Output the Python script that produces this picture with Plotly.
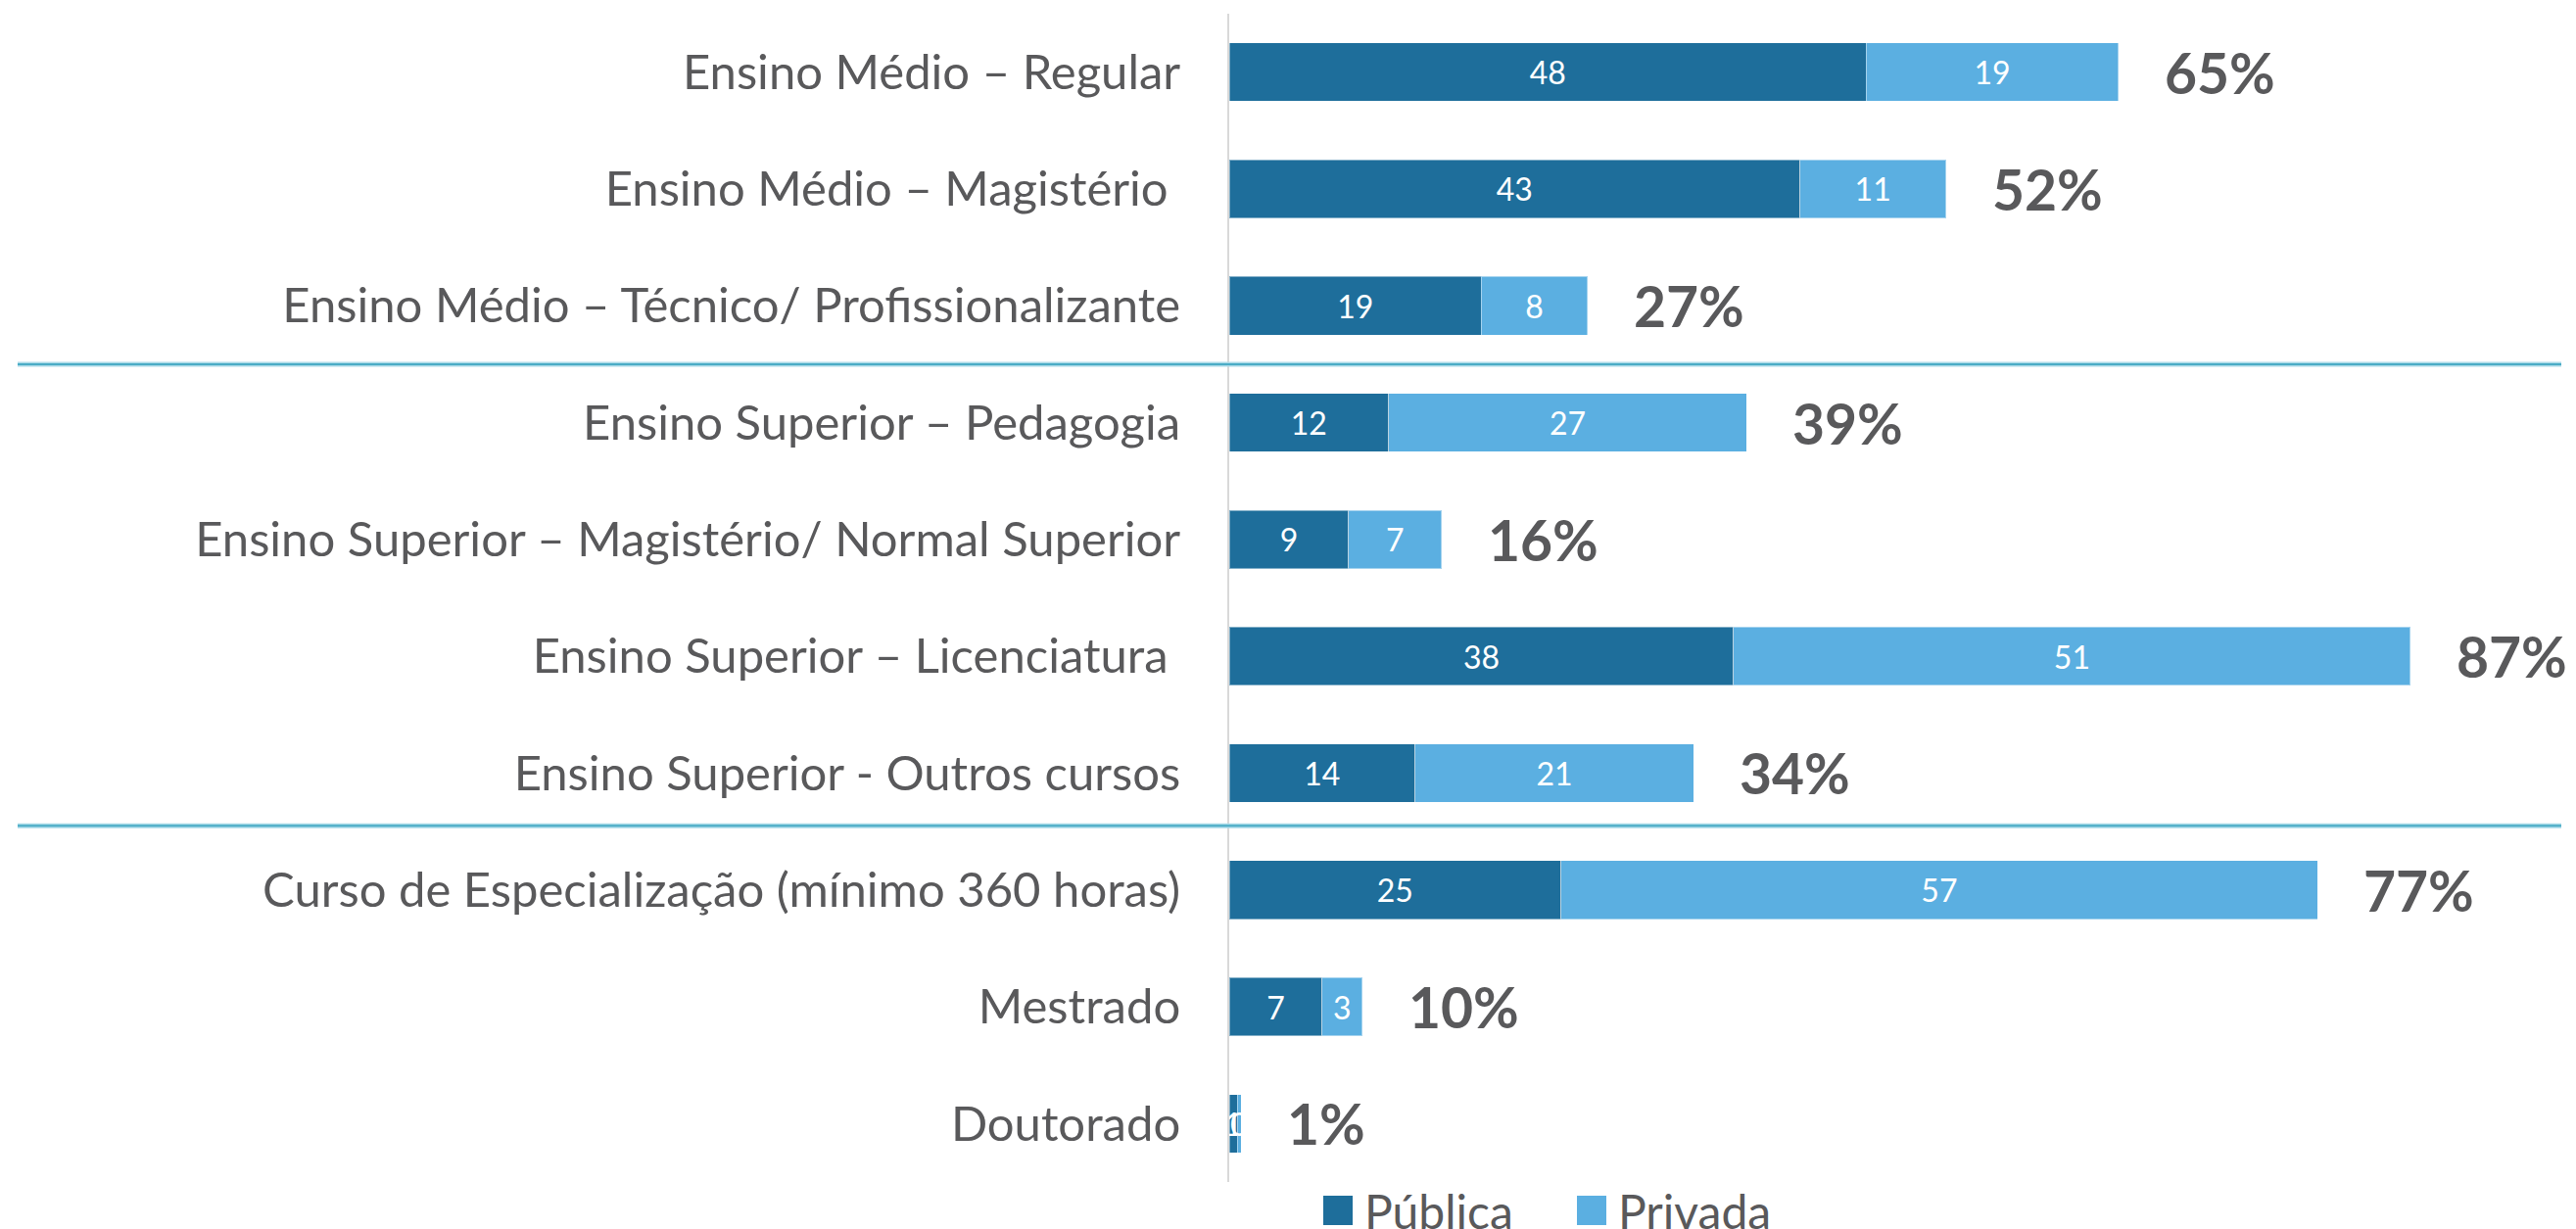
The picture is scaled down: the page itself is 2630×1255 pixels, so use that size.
import plotly.graph_objects as go

categories = [
    "Ensino Médio – Regular",
    "Ensino Médio – Magistério\u00a0",
    "Ensino Médio – Técnico/ Profissionalizante",
    "Ensino Superior – Pedagogia",
    "Ensino Superior – Magistério/ Normal Superior",
    "Ensino Superior – Licenciatura\u00a0",
    "Ensino Superior - Outros cursos",
    "Curso de Especialização (mínimo 360 horas)",
    "Mestrado",
    "Doutorado",
]
publica = [48, 43, 19, 12, 9, 38, 14, 25, 7, 0.6]
privada = [19, 11, 8, 27, 7, 51, 21, 57, 3, 0.3]
total_pct = ["65%", "52%", "27%", "39%", "16%", "87%", "34%", "77%", "10%", "1%"]
series_names = ["Pública", "Privada"]

DARK = "#1E6E9B"
LIGHT = "#5BAFE1"
GRAY = "#59595B"
FONT = "Lato"

# page body has an 8px margin: compensate so the picture lines up with the window
OFF = 8
W, H = 2630 - 2 * OFF, 1255 - OFF
PLOT_L, PLOT_R, PLOT_T, PLOT_B = 1255, 2610, 14, 1207  # in window pixels
ML = PLOT_L - OFF
MR = W - (PLOT_R - OFF)
MT = PLOT_T - OFF
MB = H - (PLOT_B - OFF)
PW, PH = PLOT_R - PLOT_L, PLOT_B - PLOT_T


def px_x(px):
    return (px - PLOT_L) / PW


def px_y(py):
    return (PLOT_B - py) / PH


fig = go.Figure()
for name, vals, col in [(series_names[0], publica, DARK), (series_names[1], privada, LIGHT)]:
    fig.add_trace(go.Bar(
        y=categories, x=vals, name=name, orientation="h",
        marker=dict(color=col, line=dict(color="rgba(255,255,255,0.45)", width=1)),
        texttemplate="%{x:.0f}", textposition="inside", insidetextanchor="middle",
        textangle=0, constraintext="none",
        textfont=dict(family=FONT, size=32, color="white"),
        showlegend=False, hoverinfo="skip",
    ))

annotations = []
for cat, p, q, t in zip(categories, publica, privada, total_pct):
    annotations.append(dict(
        x=p + q, y=cat, xref="x", yref="y", text=t, showarrow=False,
        xanchor="left", yanchor="middle", xshift=45,
        font=dict(family=FONT, size=57, color=GRAY, weight="bold"),
    ))

# manual legend (large squares)
legend_items = [(series_names[0], DARK, 1351), (series_names[1], LIGHT, 1610)]
shapes = []
for name, col, x0 in legend_items:
    shapes.append(dict(type="rect", xref="paper", yref="paper",
                       x0=px_x(x0), x1=px_x(x0 + 30), y0=px_y(1251), y1=px_y(1221),
                       fillcolor=col, line=dict(width=0)))
    annotations.append(dict(x=px_x(x0 + 40), y=px_y(1236), xref="paper", yref="paper",
                            text=name, showarrow=False, xanchor="left", yanchor="middle",
                            font=dict(family=FONT, size=48, color=GRAY)))

# group separator lines
for idx in (2.5, 6.45):
    yp = (9.5 - idx) / 10
    shapes.append(dict(type="line", xref="paper", yref="paper",
                       x0=px_x(18), x1=px_x(2615), y0=yp, y1=yp,
                       line=dict(color="#A9DAE8", width=5)))
    shapes.append(dict(type="line", xref="paper", yref="paper",
                       x0=px_x(18), x1=px_x(2615), y0=yp, y1=yp,
                       line=dict(color="#4BACC6", width=2)))

fig.update_layout(
    width=W, height=H,
    margin=dict(l=ML, r=MR, t=MT, b=MB, autoexpand=False),
    barmode="stack", bargap=0.5,
    plot_bgcolor="white", paper_bgcolor="white",
    showlegend=False,
    annotations=annotations, shapes=shapes,
    xaxis=dict(range=[0, 100], showgrid=False, zeroline=False,
               showticklabels=False, ticks=""),
    yaxis=dict(categoryorder="array", categoryarray=categories,
               range=[9.5, -0.5], showgrid=False, zeroline=False,
               showline=True, linecolor="#D9D9D9", linewidth=2,
               ticks="", ticklabelstandoff=38,
               tickfont=dict(family=FONT, size=49, color=GRAY)),
    font=dict(family=FONT, color=GRAY),
)

fig.write_html("out.html")
